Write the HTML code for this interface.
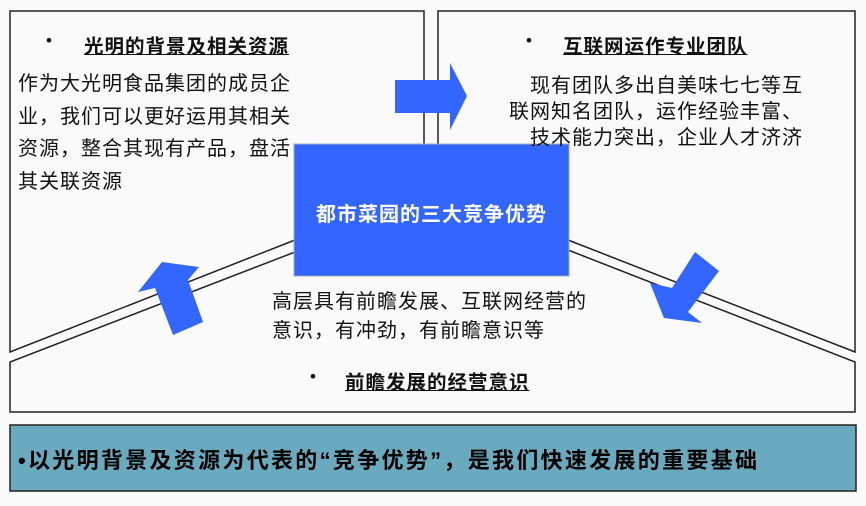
<!DOCTYPE html>
<html><head><meta charset="utf-8"><style>
body{margin:0;background:#fafafa;width:866px;height:506px;overflow:hidden;position:relative;font-family:"Liberation Sans","Noto Sans CJK SC",sans-serif;}
.t{position:absolute;white-space:nowrap;color:#111;}
.b{font-size:20px;letter-spacing:1px;}
.h{font-size:19.5px;letter-spacing:1px;font-weight:bold;text-decoration:underline;}
</style></head><body>
<svg width="866" height="506" style="position:absolute;left:0;top:0">
<g fill="none" stroke="#222" stroke-width="1.5">
<polyline points="424,145 424,11 10,11 10,352 295,240"/>
<polyline points="438,145 438,11 855,11 855,352 568,240"/>
<polyline points="295,252 10,362 10,412 855,412 855,362 568,250"/>
</g>
<rect x="10" y="425" width="846" height="66" fill="#6aaabe" stroke="#222" stroke-width="1.5"/>
<rect x="294" y="144" width="275" height="132" fill="#3366ff" stroke="#9ab" stroke-width="1"/>
<g fill="#3366ff">
<polygon points="395,80 450,80 450,63 467,96 450,130 450,113 395,113"/>
<polygon points="162,262 199,267 188,280 203,322 173,335 155,288 138,292"/>
<polygon points="695,252 719,271 688,312 702,323 664,318 650,283 672,288"/>
</g>
</svg>
<div class="t" style="left:46px;top:31px;font-size:17px">•</div>
<div class="t h" style="left:84px;top:30px">光明的背景及相关资源</div>
<div class="t" style="left:526px;top:31px;font-size:17px">•</div>
<div class="t h" style="left:563px;top:30px">互联网运作专业团队</div>
<div class="t" style="left:310px;top:367px;font-size:17px">•</div>
<div class="t h" style="left:345px;top:366px">前瞻发展的经营意识</div>
<div class="t b" style="left:18px;top:68px;line-height:32.5px">作为大光明食品集团的成员企<br>业，我们可以更好运用其相关<br>资源，整合其现有产品，盘活<br>其关联资源</div>
<div class="t b" style="left:530px;top:73px;line-height:26px">现有团队多出自美味七七等互</div>
<div class="t b" style="left:509px;top:99px;line-height:26px">联网知名团队，运作经验丰富、</div>
<div class="t b" style="left:530px;top:125px;line-height:26px">技术能力突出，企业人才济济</div>
<div class="t b" style="left:272px;top:288px;line-height:29px">高层具有前瞻发展、互联网经营的<br>意识，有冲劲，有前瞻意识等</div>
<div class="t" style="left:294px;top:198px;width:275px;text-align:center;color:#fff;font-weight:bold;font-size:20px;letter-spacing:1px">都市菜园的三大竞争优势</div>
<div class="t" style="left:18px;top:443px;font-size:22px;font-weight:bold;color:#000;letter-spacing:2.3px">•以光明背景及资源为代表的“竞争优势”，是我们快速发展的重要基础</div>
</body></html>
